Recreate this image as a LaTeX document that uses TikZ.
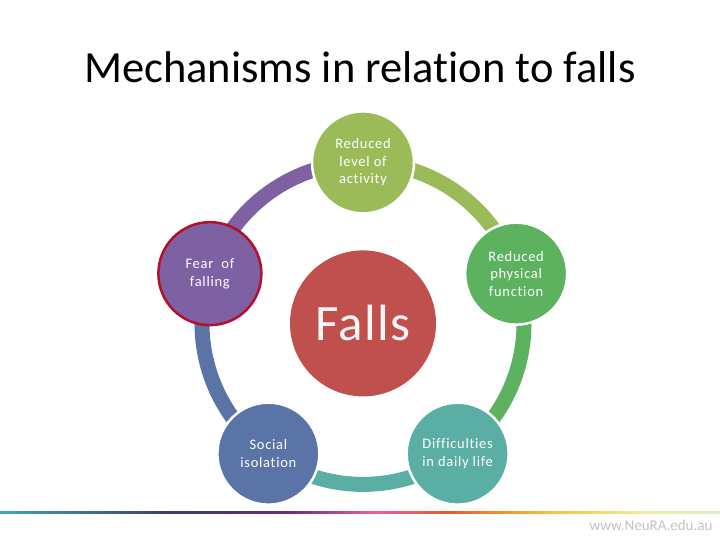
\documentclass[tikz,border=0pt]{standalone}
\usepackage{fontspec}
\setmainfont[Ligatures={NoCommon}]{Carlito}
\newfontfamily\itemfont[Ligatures={NoCommon}, LetterSpace=5]{Carlito}
\newfontfamily\fallsfont[Ligatures={NoCommon}, LetterSpace=3]{Carlito}
\definecolor{cTop}{HTML}{9BBB59}
\definecolor{cRight}{HTML}{5CB25F}
\definecolor{cBR}{HTML}{5AAEA3}
\definecolor{cBL}{HTML}{5A74A8}
\definecolor{cLeft}{HTML}{7E61A3}
\definecolor{cFalls}{HTML}{C0504D}
\definecolor{cBorder}{HTML}{B5102A}
\definecolor{gA}{HTML}{3FA9B4}
\definecolor{gB}{HTML}{3C3A66}
\definecolor{gC}{HTML}{6A2D7A}
\definecolor{gD}{HTML}{E7609E}
\definecolor{gE}{HTML}{E9582E}
\definecolor{gF}{HTML}{F2C23A}
\definecolor{gG}{HTML}{F1EDA0}
\definecolor{gH}{HTML}{D9EFC9}
\pgfdeclarehorizontalshading{neura}{100bp}{color(0bp)=(gA); color(25bp)=(gA); color(37bp)=(gB); color(45bp)=(gC); color(51bp)=(gD); color(56bp)=(gE); color(63bp)=(gF); color(70bp)=(gG); color(75bp)=(gH); color(100bp)=(gH)}
\tikzset{
  band/.style={line width=15pt},
  item/.style={circle, minimum size=102pt, inner sep=0pt, text=white, align=center,
    font=\itemfont\fontsize{14.5}{17.5}\selectfont, draw=white, line width=2.5pt},
}
\begin{document}
\begin{tikzpicture}[x=1pt,y=1pt]
\useasboundingbox (0,0) rectangle (720,540);
\node (title) at (360,473) {\fontsize{44.5}{50}\selectfont Mechanisms in relation to falls};
\coordinate (O) at (363,216.6);
% arcs
\draw[band, cTop] ([shift={(90:161)}]O) arc[start angle=90, end angle=18, radius=161];
\draw[band, cRight] ([shift={(18:161)}]O) arc[start angle=18, end angle=-54, radius=161];
\draw[band, cBR] ([shift={(-54:161)}]O) arc[start angle=-54, end angle=-126, radius=161];
\draw[band, cBL] ([shift={(-126:161)}]O) arc[start angle=-126, end angle=-198, radius=161];
\draw[band, cLeft] ([shift={(162:161)}]O) arc[start angle=162, end angle=90, radius=161];
% centre
\node[circle, minimum size=146pt, inner sep=0pt, fill=cFalls, text=white!96!black,
  font=\fallsfont\fontsize{51}{55}\selectfont] (falls) at (O) {Falls};
% items
\node[item, fill=cTop] (act) at ([shift={(90:161)}]O) {Reduced\\level of\\activity};
\node[item, fill=cRight] (phys) at ([shift={(18:161)}]O) {Reduced\\physical\\function};
\node[item, fill=cBR] (daily) at ([shift={(-54:161)}]O) {Difficulties\\in daily life};
\node[item, fill=cBL] (soc) at ([shift={(-126:161)}]O) {Social\\isolation};
\node[item, fill=cLeft, draw=cBorder, line width=2.5pt, minimum size=103pt] (fear) at ([shift={(162:161)}]O) {Fear~~of\\falling};
% footer
\shade[shading=neura] (0,26) rectangle (720,28);
\node[anchor=east, text=black!24, font=\fontsize{15}{17}\selectfont] (web) at (716,15) {www.NeuRA.edu.au};
\end{tikzpicture}
\end{document}
